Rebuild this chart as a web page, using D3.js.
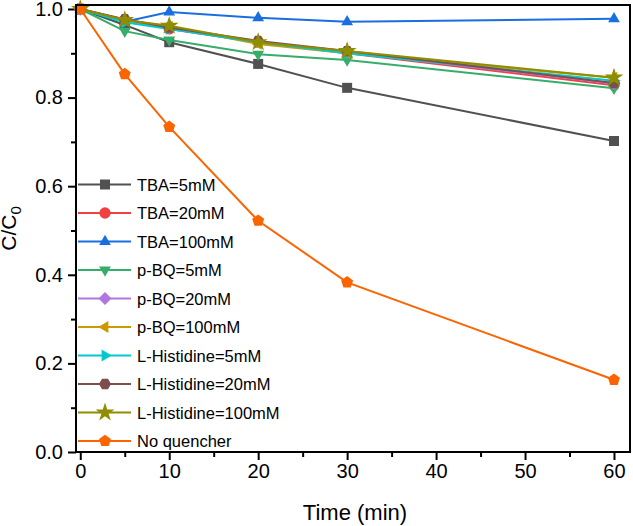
<!DOCTYPE html>
<html><head><meta charset="utf-8">
<script src="https://cdn.jsdelivr.net/npm/d3@7"></script>
<style>body{margin:0;background:#fff}svg{display:block;font-family:Arial,"Liberation Sans",sans-serif}</style>
</head><body><svg id="c" width="633" height="526"></svg>
<script>
const times = [0, 5, 10, 20, 30, 60];
const seriesNames = ["TBA=5mM","TBA=20mM","TBA=100mM","p-BQ=5mM","p-BQ=20mM","p-BQ=100mM","L-Histidine=5mM","L-Histidine=20mM","L-Histidine=100mM","No quencher"];
const tba5 = [1, 0.964, 0.925, 0.876, 0.822, 0.702];
const tba20 = [1, 0.975, 0.955, 0.925, 0.900, 0.828];
const tba100 = [1, 0.971, 0.993, 0.980, 0.971, 0.978];
const pbq5 = [1, 0.950, 0.930, 0.898, 0.885, 0.821];
const pbq20 = [1, 0.975, 0.957, 0.926, 0.902, 0.832];
const pbq100 = [1, 0.975, 0.960, 0.921, 0.900, 0.845];
const his5 = [1, 0.970, 0.955, 0.925, 0.900, 0.838];
const his20 = [1, 0.977, 0.958, 0.928, 0.905, 0.833];
const his100 = [1, 0.975, 0.962, 0.925, 0.905, 0.845];
const noQ = [1, 0.853, 0.734, 0.522, 0.383, 0.163];
const seriesValues = [tba5, tba20, tba100, pbq5, pbq20, pbq100, his5, his20, his100, noQ];
const colors = ["#515151","#F14040","#1A6FDF","#37AD6B","#B177DE","#CC9900","#00CBCC","#7D4E4E","#8E8E00","#FB6501"];
const xTicks = [0, 10, 20, 30, 40, 50, 60];
const yTicks = [0.0, 0.2, 0.4, 0.6, 0.8, 1.0];

const svg = d3.select("#c");
const L = 76, R = 630, T = 5, B = 452;
const x = d3.scaleLinear().domain([-0.48, 61.8]).range([L, R]);
const y = d3.scaleLinear().domain([0, 1.009]).range([B, T]);

function poly(n, r, rot) {
  const pts = [];
  for (let i = 0; i < n; i++) { const a = rot + i * 2 * Math.PI / n; pts.push([r * Math.cos(a), r * Math.sin(a)]); }
  return "M" + pts.map(p => p.join(",")).join("L") + "Z";
}
const tri = (r, ang) => poly(3, r, ang);
const markers = [
  () => "M-5,-5H5V5H-5Z",
  () => d3.symbol(d3.symbolCircle, 100)(),
  () => tri(6.8, -Math.PI/2),
  () => tri(6.8, Math.PI/2),
  () => poly(4, 6.5, 0),
  () => tri(6.8, Math.PI),
  () => tri(6.8, 0),
  () => poly(6, 6, 0),
  () => d3.symbol(d3.symbolStar, 110)(),
  () => poly(5, 6.3, -Math.PI/2)
];

// axes
const xAxis = d3.axisBottom(x).tickValues(xTicks).tickSize(8).tickPadding(4).tickFormat(d3.format("d"));
const gx = svg.append("g").attr("transform", `translate(0,${B})`).call(xAxis);
gx.select(".domain").remove();
gx.selectAll("line").attr("stroke", "#000").attr("stroke-width", 2);
gx.selectAll("text").attr("font-size", 20).attr("fill", "#000").attr("font-family", "Arial, 'Liberation Sans', sans-serif");
const gxm = svg.append("g").attr("transform", `translate(0,${B})`).call(d3.axisBottom(x).tickValues([5,15,25,35,45,55]).tickSize(5).tickFormat(""));
gxm.select(".domain").remove();
gxm.selectAll("line").attr("stroke", "#000").attr("stroke-width", 2);

const yAxis = d3.axisLeft(y).tickValues(yTicks).tickSize(8).tickPadding(5).tickFormat(d3.format(".1f"));
const gy = svg.append("g").attr("transform", `translate(${L},0)`).call(yAxis);
gy.select(".domain").remove();
gy.selectAll("line").attr("stroke", "#000").attr("stroke-width", 2);
gy.selectAll("text").attr("font-size", 20).attr("fill", "#000").attr("font-family", "Arial, 'Liberation Sans', sans-serif");
const gym = svg.append("g").attr("transform", `translate(${L},0)`).call(d3.axisLeft(y).tickValues([0.1,0.3,0.5,0.7,0.9]).tickSize(5).tickFormat(""));
gym.select(".domain").remove();
gym.selectAll("line").attr("stroke", "#000").attr("stroke-width", 2);

// series
const line = d3.line().x((d, i) => x(times[i])).y(d => y(d));
seriesValues.forEach((vals, k) => {
  svg.append("path").attr("d", line(vals)).attr("fill", "none").attr("stroke", colors[k]).attr("stroke-width", 2);
  svg.append("g").selectAll("path").data(vals).join("path")
    .attr("d", markers[k]())
    .attr("transform", (d, i) => `translate(${x(times[i])},${y(d)})`)
    .attr("fill", colors[k]);
});

// frame
svg.append("rect").attr("x", L).attr("y", T).attr("width", R - L).attr("height", B - T)
  .attr("fill", "none").attr("stroke", "#000").attr("stroke-width", 2);

// legend
const lg = svg.append("g");
seriesNames.forEach((name, k) => {
  const yy = 184.5 + k * 28.5;
  lg.append("line").attr("x1", 78).attr("x2", 131).attr("y1", yy).attr("y2", yy).attr("stroke", colors[k]).attr("stroke-width", 2);
  lg.append("path").attr("d", markers[k]()).attr("transform", `translate(105,${yy})`).attr("fill", colors[k]);
  lg.append("text").attr("x", 137).attr("y", yy + 6).attr("font-size", 16.5).attr("fill", "#000").text(name);
});

// titles
svg.append("text").attr("x", (L + R) / 2 + 2).attr("y", 520).attr("text-anchor", "middle").attr("font-size", 22).attr("fill", "#000").text("Time (min)");
const yt = svg.append("text").attr("transform", `translate(16,${(T + B) / 2}) rotate(-90)`).attr("text-anchor", "middle").attr("font-size", 21).attr("fill", "#000");
yt.append("tspan").text("C/C");
yt.append("tspan").attr("dy", 5).attr("font-size", 15).text("0");
</script></body></html>
